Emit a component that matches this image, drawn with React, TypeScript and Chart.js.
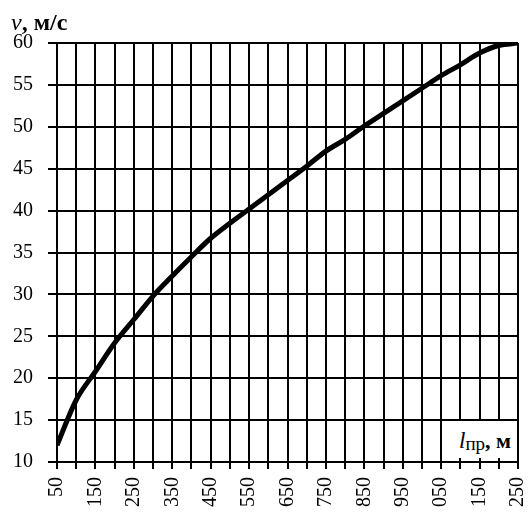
import React, { useEffect, useRef } from "react";
import { Chart, registerables } from "chart.js";

Chart.register(...registerables);

// Distance values (m) at each grid line
const distances = [50, 100, 150, 200, 250, 300, 350, 400, 450, 500, 550, 600, 650, 700, 750, 800, 850, 900, 950, 1000, 1050, 1100, 1150, 1200, 1250];
// Speed values (m/s)
const speeds = [12.0, 17.4, 20.8, 24.2, 27.0, 29.8, 32.2, 34.5, 36.7, 38.5, 40.2, 41.9, 43.6, 45.3, 47.1, 48.5, 50.1, 51.6, 53.1, 54.6, 56.1, 57.4, 58.8, 59.7, 60.0];
// Labelled x ticks and their texts as shown
const xLabelValues = [50, 150, 250, 350, 450, 550, 650, 750, 850, 950, 1050, 1150, 1250];
const xLabelTexts = ["50", "150", "250", "350", "450", "550", "650", "750", "850", "950", "050", "150", "250"];
const yTicks = [10, 15, 20, 25, 30, 35, 40, 45, 50, 55, 60];

const FONT = "'Liberation Serif', 'Times New Roman', serif";

export default function App() {
  const ref = useRef<HTMLCanvasElement | null>(null);

  useEffect(() => {
    if (!ref.current) return;
    const chart = new Chart(ref.current, {
      type: "line",
      data: {
        datasets: [
          {
            data: distances.map((x, i) => ({ x, y: speeds[i] })),
            borderColor: "#000",
            borderWidth: 5,
            pointRadius: 0,
            fill: false,
            cubicInterpolationMode: "monotone",
          },
        ],
      },
      options: {
        animation: false,
        responsive: false,
        maintainAspectRatio: false,
        layout: { padding: { left: 0, top: 43, right: 13, bottom: 0 } },
        plugins: { legend: { display: false }, tooltip: { enabled: false } },
        scales: {
          x: {
            type: "linear",
            min: 50,
            max: 1250,
            afterBuildTicks: (s: any) => {
              s.ticks = distances.map((v) => ({ value: v }));
            },
            afterFit: (s: any) => {
              s.height = 51;
              s.paddingLeft = 0;
              s.paddingRight = 0;
            },
            ticks: {
              autoSkip: false,
              minRotation: 90,
              maxRotation: 90,
              padding: 8,
              color: "#000",
              font: { family: FONT, size: 20 },
              callback: (v: any) => {
                const i = xLabelValues.indexOf(Number(v));
                return i >= 0 ? xLabelTexts[i] : "";
              },
            },
            grid: { color: "#000", lineWidth: 2, tickLength: 7 },
            border: { color: "#000", width: 2 },
          },
          y: {
            min: 10,
            max: 60,
            afterBuildTicks: (s: any) => {
              s.ticks = yTicks.map((v) => ({ value: v }));
            },
            afterFit: (s: any) => {
              s.width = 57;
              s.paddingTop = 0;
              s.paddingBottom = 0;
            },
            ticks: {
              padding: 15,
              color: "#000",
              font: { family: FONT, size: 20 },
              callback: (v: any) => String(v),
            },
            grid: { color: "#000", lineWidth: 2, tickLength: 9 },
            border: { color: "#000", width: 2 },
          },
        },
      },
    });
    return () => chart.destroy();
  }, []);

  return (
    <div style={{ position: "absolute", left: 0, top: 0, width: 531, height: 513, background: "#fff", overflow: "hidden" }}>
      <canvas ref={ref} width={531} height={513} style={{ position: "absolute", left: 0, top: 0 }} />
      <div
        style={{
          position: "absolute",
          left: 11,
          top: 10,
          fontFamily: FONT,
          fontSize: 24,
          lineHeight: 1,
          color: "#000",
          whiteSpace: "nowrap",
        }}
      >
        <i>v</i>
        <b>, м/с</b>
      </div>
      <div
        style={{
          position: "absolute",
          left: 443,
          top: 421,
          width: 73,
          height: 37,
          background: "#fff",
          boxSizing: "border-box",
          paddingLeft: 16,
          paddingTop: 8,
          fontFamily: FONT,
          fontSize: 23,
          lineHeight: 1,
          color: "#000",
          whiteSpace: "nowrap",
        }}
      >
        <i>l</i>
        <span style={{ fontSize: 19, position: "relative", top: 2 }}>пр</span>
        <b style={{ fontSize: 22 }}>, м</b>
      </div>
    </div>
  );
}
